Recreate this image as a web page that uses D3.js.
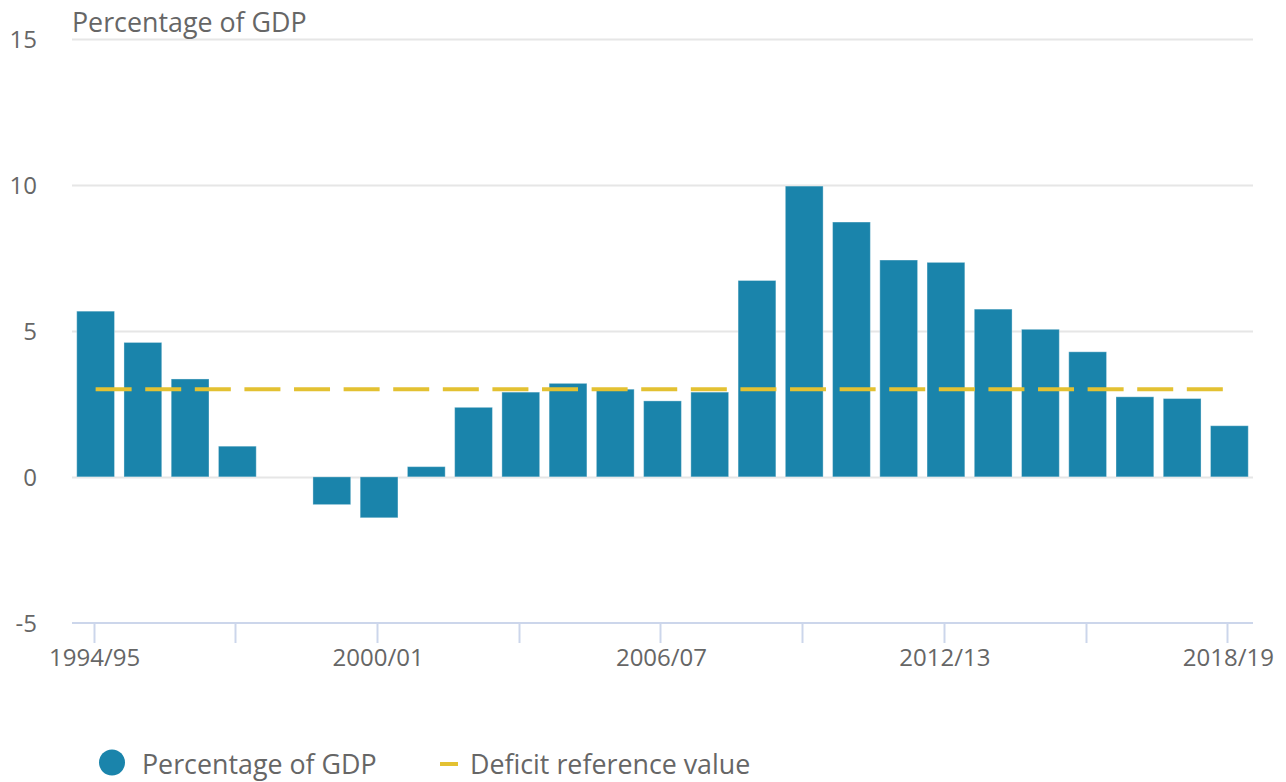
<!DOCTYPE html>
<html>
<head>
<meta charset="utf-8">
<script src="https://cdn.jsdelivr.net/npm/d3@7"></script>
<style>
  html, body { margin: 0; padding: 0; background: #fff; }
  svg { display: block; font-family: "Open Sans", sans-serif; }
</style>
</head>
<body>
<svg id="chart" width="1286" height="782"></svg>
<script>
const years = ["1994/95","1995/96","1996/97","1997/98","1998/99","1999/00","2000/01","2001/02","2002/03","2003/04","2004/05","2005/06","2006/07","2007/08","2008/09","2009/10","2010/11","2011/12","2012/13","2013/14","2014/15","2015/16","2016/17","2017/18","2018/19"];
const pctGDP = [5.67, 4.6, 3.35, 1.05, 0, -0.95, -1.4, 0.35, 2.38, 2.9, 3.2, 3.0, 2.6, 2.9, 6.72, 9.95, 8.72, 7.42, 7.34, 5.74, 5.05, 4.28, 2.74, 2.68, 1.75];
const deficitRef = 3;
const yTicks = [-5, 0, 5, 10, 15];
const xTickYears = ["1994/95","1997/98","2000/01","2003/04","2006/07","2009/10","2012/13","2015/16","2018/19"];
const xLabelYears = ["1994/95","2000/01","2006/07","2012/13","2018/19"];
const seriesNames = ["Percentage of GDP", "Deficit reference value"];

const barColor = "#1a84ab";
const lineColor = "#e3c132";
const textColor = "#666666";

const svg = d3.select("#chart");
const pLeft = 72, pRight = 1253, pTop = 38.5, pBottom = 623;

const x = d3.scaleBand().domain(years).range([pLeft, pRight]).paddingInner(0.2).paddingOuter(0.1);
const y = d3.scaleLinear().domain([-5, 15]).range([pBottom, pTop]);

// gridlines
svg.append("g").selectAll("line").data(yTicks.filter(d => d !== -5)).join("line")
  .attr("x1", pLeft).attr("x2", pRight)
  .attr("y1", d => Math.round(y(d)) + 0.5).attr("y2", d => Math.round(y(d)) + 0.5)
  .attr("stroke", "#e6e6e6").attr("stroke-width", 2);

// y labels
svg.append("g").selectAll("text").data(yTicks).join("text")
  .attr("x", 37).attr("y", d => y(d) + 9)
  .attr("text-anchor", "end").attr("font-size", 24).attr("fill", textColor)
  .text(d => d);

// x axis line
svg.append("line").attr("x1", pLeft).attr("x2", pRight)
  .attr("y1", pBottom).attr("y2", pBottom)
  .attr("stroke", "#ccd6eb").attr("stroke-width", 2);

const center = d => x(d) + x.bandwidth() / 2;
svg.append("g").selectAll("line").data(xTickYears).join("line")
  .attr("x1", d => Math.round(center(d)) - 1.5).attr("x2", d => Math.round(center(d)) - 1.5)
  .attr("y1", pBottom).attr("y2", pBottom + 20)
  .attr("stroke", "#ccd6eb").attr("stroke-width", 2);

svg.append("g").selectAll("text").data(xLabelYears).join("text")
  .attr("x", d => center(d) - 1).attr("y", 666)
  .attr("text-anchor", "middle").attr("font-size", 24).attr("fill", textColor)
  .text(d => d);

// bars
svg.append("g").selectAll("rect").data(years.map((yr, i) => ({yr, v: pctGDP[i]}))).join("rect")
  .attr("x", d => x(d.yr))
  .attr("width", x.bandwidth())
  .attr("y", d => y(Math.max(0, d.v)))
  .attr("height", d => Math.abs(y(d.v) - y(0)))
  .attr("fill", barColor)
  .attr("stroke", "#ffffff").attr("stroke-opacity", 0.35).attr("stroke-width", 1);

// deficit reference line
svg.append("line")
  .attr("x1", center(years[0])).attr("x2", center(years[years.length - 1]))
  .attr("y1", y(deficitRef)).attr("y2", y(deficitRef))
  .attr("stroke", lineColor).attr("stroke-width", 4)
  .attr("stroke-dasharray", "36,13.6");

// title
svg.append("text").attr("x", 72).attr("y", 32)
  .attr("font-size", 26.8).attr("fill", textColor)
  .text("Percentage of GDP");

// legend
const lg = svg.append("g");
lg.append("circle").attr("cx", 112).attr("cy", 762.5).attr("r", 13).attr("fill", barColor);
lg.append("text").attr("x", 142).attr("y", 774).attr("font-size", 26.8).attr("fill", textColor).text(seriesNames[0]);
lg.append("line").attr("x1", 440).attr("x2", 458).attr("y1", 764).attr("y2", 764)
  .attr("stroke", lineColor).attr("stroke-width", 4);
lg.append("text").attr("x", 470).attr("y", 774).attr("font-size", 26.8).attr("fill", textColor).text(seriesNames[1]);
</script>
</body>
</html>
